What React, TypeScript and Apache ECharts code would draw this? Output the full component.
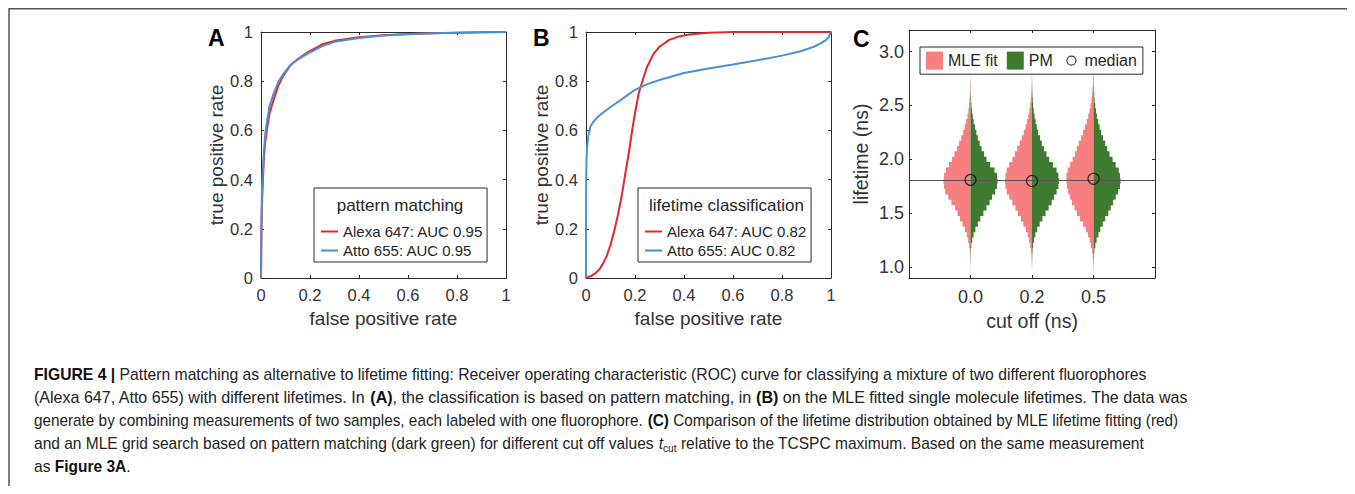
import React, { useEffect, useRef } from 'react';
import * as echarts from 'echarts';

// ---------- Panel A: pattern matching ROC ----------
const pmFpr = [0, 0.002, 0.004, 0.007, 0.012, 0.018, 0.025, 0.035, 0.05, 0.07, 0.09, 0.12, 0.15, 0.19, 0.25, 0.3, 0.4, 0.5, 0.6, 0.7, 0.8, 0.9, 1];
const pmAlexaTpr = [0, 0.2, 0.3, 0.38, 0.49, 0.56, 0.61, 0.67, 0.72, 0.78, 0.82, 0.865, 0.89, 0.917, 0.95, 0.964, 0.979, 0.987, 0.992, 0.995, 0.997, 0.999, 1];
const pmAttoTpr = [0, 0.25, 0.35, 0.42, 0.52, 0.59, 0.64, 0.7, 0.745, 0.795, 0.828, 0.865, 0.888, 0.912, 0.943, 0.96, 0.976, 0.986, 0.991, 0.995, 0.997, 0.999, 1];

// ---------- Panel B: lifetime classification ROC ----------
const ltAlexaFpr = [0, 0.02, 0.04, 0.055, 0.07, 0.085, 0.1, 0.115, 0.13, 0.145, 0.16, 0.175, 0.19, 0.2, 0.215, 0.23, 0.25, 0.275, 0.3, 0.34, 0.38, 0.42, 0.5, 0.6, 0.8, 1];
const ltAlexaTpr = [0, 0.008, 0.02, 0.035, 0.06, 0.09, 0.135, 0.19, 0.255, 0.33, 0.42, 0.51, 0.61, 0.67, 0.75, 0.8, 0.86, 0.91, 0.94, 0.968, 0.982, 0.99, 0.997, 1, 1, 1];
const ltAttoFpr = [0, 0.0005, 0.002, 0.005, 0.01, 0.018, 0.03, 0.045, 0.06, 0.08, 0.1, 0.14, 0.2, 0.25, 0.3, 0.4, 0.5, 0.6, 0.7, 0.8, 0.88, 0.93, 0.96, 0.98, 0.99, 1];
const ltAttoTpr = [0, 0.4, 0.48, 0.54, 0.58, 0.615, 0.635, 0.652, 0.665, 0.68, 0.695, 0.722, 0.765, 0.788, 0.805, 0.833, 0.852, 0.868, 0.885, 0.904, 0.923, 0.94, 0.955, 0.968, 0.978, 1];

// ---------- Panel C: lifetime distributions ----------
const cutoffLabels = ['0.0', '0.2', '0.5'];
const cutoffPositions = [0, 1, 2];
const medianLifetimes = [1.81, 1.8, 1.82];
const referenceLifetime = 1.81;
const lifetimeTicks = [1.0, 1.5, 2.0, 2.5, 3.0];
const lifetimeBins = [1.0, 1.05, 1.1, 1.15, 1.2, 1.25, 1.3, 1.35, 1.4, 1.45, 1.5, 1.55, 1.6, 1.65, 1.7, 1.75, 1.8, 1.85, 1.9, 1.95, 2.0, 2.05, 2.1, 2.15, 2.2, 2.25, 2.3, 2.35, 2.4, 2.45, 2.5, 2.55, 2.6, 2.65, 2.7, 2.75, 2.8];
// half-widths (in cut-off slot units) of each histogram bin
const mleCut00 = [0.002, 0.004, 0.007, 0.012, 0.022, 0.038, 0.06, 0.09, 0.13, 0.17, 0.21, 0.25, 0.31, 0.36, 0.41, 0.43, 0.44, 0.43, 0.4, 0.35, 0.3, 0.26, 0.22, 0.185, 0.15, 0.12, 0.095, 0.07, 0.05, 0.035, 0.025, 0.017, 0.012, 0.008, 0.005, 0.003, 0.002];
const pmCut00 = [0.001, 0.002, 0.004, 0.007, 0.014, 0.028, 0.05, 0.08, 0.12, 0.16, 0.21, 0.26, 0.31, 0.35, 0.4, 0.43, 0.44, 0.43, 0.39, 0.32, 0.26, 0.22, 0.18, 0.15, 0.12, 0.095, 0.072, 0.052, 0.037, 0.025, 0.016, 0.01, 0.006, 0.004, 0.002, 0.001, 0.001];
const mleCut02 = [0.002, 0.005, 0.009, 0.016, 0.028, 0.045, 0.07, 0.1, 0.14, 0.18, 0.23, 0.27, 0.32, 0.37, 0.41, 0.43, 0.44, 0.43, 0.41, 0.37, 0.32, 0.28, 0.24, 0.2, 0.165, 0.135, 0.105, 0.08, 0.06, 0.043, 0.03, 0.021, 0.014, 0.009, 0.006, 0.004, 0.002];
const pmCut02 = [0.001, 0.003, 0.005, 0.009, 0.017, 0.032, 0.055, 0.085, 0.125, 0.17, 0.22, 0.27, 0.32, 0.36, 0.4, 0.43, 0.44, 0.43, 0.4, 0.34, 0.28, 0.235, 0.195, 0.16, 0.13, 0.1, 0.078, 0.058, 0.042, 0.029, 0.019, 0.012, 0.008, 0.005, 0.003, 0.002, 0.001];
const mleCut05 = [0.003, 0.006, 0.012, 0.022, 0.04, 0.06, 0.09, 0.125, 0.17, 0.22, 0.27, 0.31, 0.35, 0.38, 0.41, 0.43, 0.44, 0.44, 0.42, 0.38, 0.34, 0.3, 0.27, 0.24, 0.2, 0.17, 0.14, 0.11, 0.085, 0.065, 0.048, 0.034, 0.023, 0.015, 0.009, 0.005, 0.003];
const pmCut05 = [0.002, 0.004, 0.008, 0.015, 0.03, 0.05, 0.08, 0.11, 0.15, 0.19, 0.24, 0.28, 0.32, 0.36, 0.4, 0.43, 0.44, 0.43, 0.41, 0.36, 0.31, 0.26, 0.22, 0.19, 0.155, 0.125, 0.1, 0.075, 0.055, 0.04, 0.028, 0.019, 0.012, 0.008, 0.005, 0.003, 0.002];
const mleHalfWidths = [mleCut00, mleCut02, mleCut05];
const pmHalfWidths = [pmCut00, pmCut02, pmCut05];

// ---------- texts ----------
const captionLines = [
  '{b|FIGURE 4 |} Pattern matching as alternative to lifetime fitting: Receiver operating characteristic (ROC) curve for classifying a mixture of two different fluorophores',
  '(Alexa 647, Atto 655) with different lifetimes. In {b|(A)}, the classification is based on pattern matching, in {b|(B)} on the MLE fitted single molecule lifetimes. The data was',
  'generate by combining measurements of two samples, each labeled with one fluorophore. {b|(C)} Comparison of the lifetime distribution obtained by MLE lifetime fitting (red)',
  'and an MLE grid search based on pattern matching (dark green) for different cut off values {i|t}{s|cut} relative to the TCSPC maximum. Based on the same measurement',
  'as {b|Figure 3A}.',
];
const captionScale = [0.982, 1.004, 0.957, 0.971, 0.97];

const FONT = '"Liberation Sans", Arial, Helvetica, sans-serif';
const AX = '#2b2b2b';
const TXT = '#333';
const RED = '#e3262b';
const BLUE = '#4a8fd3';
const SALMON = '#f87f7f';
const GREEN = '#3e7a30';

const zip = (xs: number[], ys: number[]) => xs.map((x, i) => [x, ys[i]]);

function boxAxes(gridIndex: number, min: number, max: number, xName: string | null, isX: boolean, label: any, extraTick: any, nameGap: number, nameSize: number) {
  const line = { onZero: false, lineStyle: { color: AX, width: 1 } };
  const tick = { inside: true, length: 3, lineStyle: { color: AX, width: 1 }, ...extraTick };
  return [
    {
      type: 'value', gridIndex, min, max, position: isX ? 'bottom' : 'left',
      axisLine: line, axisTick: tick, splitLine: { show: false },
      axisLabel: label,
      name: xName, nameLocation: 'middle', nameGap,
      nameTextStyle: { color: TXT, fontSize: nameSize, fontFamily: FONT },
    },
    {
      type: 'value', gridIndex, min, max, position: isX ? 'top' : 'right',
      axisLine: line, axisTick: tick, splitLine: { show: false },
      axisLabel: { show: false },
    },
  ];
}

export default function App() {
  const ref = useRef<HTMLDivElement>(null);
  useEffect(() => {
    if (!ref.current) return;
    const chart = echarts.init(ref.current, null, { renderer: 'svg' });
    const rocLabel = { color: TXT, fontSize: 16.5, fontFamily: FONT, margin: 8 };
    const rocX = (g: number) => boxAxes(g, 0, 1, 'false positive rate', true, rocLabel, {}, 31, 19);
    const rocY = (g: number) => boxAxes(g, 0, 1, 'true positive rate', false, rocLabel, {}, 31, 19);
    const xA = rocX(0).map((a: any) => ({ ...a, interval: 0.2 }));
    const yA = rocY(0).map((a: any) => ({ ...a, interval: 0.2 }));
    const xB = rocX(1).map((a: any) => ({ ...a, interval: 0.2 }));
    const yB = rocY(1).map((a: any) => ({ ...a, interval: 0.2 }));
    const xC = boxAxes(2, -1, 3, 'cut off (ns)', true,
      { color: TXT, fontSize: 18, fontFamily: FONT, margin: 10, customValues: cutoffPositions, formatter: (v: number) => cutoffLabels[Math.round(v)] },
      { customValues: cutoffPositions }, 28, 19.5);
    const yC = boxAxes(2, 0.9, 3.2, 'lifetime (ns)', false,
      { color: TXT, fontSize: 18, fontFamily: FONT, margin: 5, customValues: lifetimeTicks, formatter: (v: number) => v.toFixed(1) },
      { customValues: lifetimeTicks }, 38, 19.5);

    const violin = (widths: number[][], side: number) => (params: any, api: any) => {
      const pos = api.value(0);
      const w = widths[params.dataIndex];
      const half = (lifetimeBins[1] - lifetimeBins[0]) / 2;
      const pts: number[][] = [api.coord([pos, lifetimeBins[0] - half])];
      for (let i = 0; i < lifetimeBins.length; i++) {
        const x = pos + side * w[i];
        pts.push(api.coord([x, lifetimeBins[i] - half]));
        pts.push(api.coord([x, lifetimeBins[i] + half]));
      }
      pts.push(api.coord([pos, lifetimeBins[lifetimeBins.length - 1] + half]));
      return { type: 'polygon', shape: { points: pts }, style: { fill: api.visual('color') } };
    };
    const violinData = cutoffPositions.map((p, i) => [p, medianLifetimes[i]]);

    const rocLegend = (left: number, names: string[]) => ({
      orient: 'vertical', left, top: 180, padding: [36, 4, 4, 7], itemGap: 4,
      itemWidth: 17, itemHeight: 2, icon: 'rect', selectedMode: false,
      borderColor: AX, borderWidth: 1, backgroundColor: '#fff',
      textStyle: { color: '#262626', fontSize: 15, fontFamily: FONT },
      data: names,
    });

    const lineSeries = (name: string, data: number[][], color: string, g: number) => ({
      name, type: 'line', data, xAxisIndex: g * 2, yAxisIndex: g * 2, color,
      showSymbol: false, symbol: 'none', lineStyle: { width: 2, color }, smooth: false,
    });

    const CF = 16;
    const caption = captionLines.map((t, i) => ({
      type: 'text', x: 26, y: 366.5 + 23 * i, scaleX: captionScale[i], z: 10,
      style: {
        text: t, fill: '#222', font: CF + 'px ' + FONT, align: 'left', verticalAlign: 'middle',
        lineHeight: 20,
        rich: {
          b: { font: 'bold ' + CF + 'px ' + FONT, fill: '#111', lineHeight: 20 },
          i: { font: 'italic ' + CF + 'px ' + FONT, fill: '#222', lineHeight: 20 },
          s: { font: '10.5px ' + FONT, fill: '#222', lineHeight: 10, verticalAlign: 'bottom' },
        },
      },
    }));

    chart.setOption({
      animation: false,
      grid: [
        { left: 253, top: 24, width: 245, height: 246 },
        { left: 578, top: 24, width: 245, height: 246 },
        { left: 901, top: 22, width: 246, height: 248 },
      ],
      xAxis: [...xA, ...xB, ...xC],
      yAxis: [...yA, ...yB, ...yC],
      legend: [
        rocLegend(306, ['Alexa 647: AUC 0.95', 'Atto 655: AUC 0.95']),
        rocLegend(630, ['Alexa 647: AUC 0.82', 'Atto 655: AUC 0.82']),
        {
          orient: 'horizontal', left: 912, top: 39, padding: [4, 6, 4, 6], itemGap: 9,
          itemWidth: 17, itemHeight: 18, selectedMode: false,
          borderColor: AX, borderWidth: 1, backgroundColor: '#fff',
          textStyle: { color: '#262626', fontSize: 16, fontFamily: FONT },
          data: [
            { name: 'MLE fit', icon: 'rect' },
            { name: 'PM', icon: 'rect' },
            {
              name: 'median',
              icon: 'path://M0,0M17,18M13.5,9A4.5,4.5,0,1,1,4.5,9A4.5,4.5,0,1,1,13.5,9Z',
              itemStyle: { color: 'rgba(0,0,0,0)', borderColor: '#111', borderWidth: 1.2 },
            },
          ],
        },
      ],
      series: [
        lineSeries('Alexa 647: AUC 0.95', zip(pmFpr, pmAlexaTpr), RED, 0),
        lineSeries('Atto 655: AUC 0.95', zip(pmFpr, pmAttoTpr), BLUE, 0),
        lineSeries('Alexa 647: AUC 0.82', zip(ltAlexaFpr, ltAlexaTpr), RED, 1),
        lineSeries('Atto 655: AUC 0.82', zip(ltAttoFpr, ltAttoTpr), BLUE, 1),
        {
          name: 'MLE fit', type: 'custom', xAxisIndex: 4, yAxisIndex: 4,
          itemStyle: { color: SALMON }, renderItem: violin(mleHalfWidths, -1),
          data: violinData, encode: { x: 0, y: 1 },
        },
        {
          name: 'PM', type: 'custom', xAxisIndex: 4, yAxisIndex: 4,
          itemStyle: { color: GREEN }, renderItem: violin(pmHalfWidths, 1),
          data: violinData, encode: { x: 0, y: 1 },
        },
        {
          name: 'median', type: 'scatter', xAxisIndex: 4, yAxisIndex: 4,
          symbol: 'circle', symbolSize: 11, z: 5,
          itemStyle: { color: 'rgba(0,0,0,0)', borderColor: '#111', borderWidth: 1.2 },
          data: violinData,
          markLine: {
            silent: true, symbol: ['none', 'none'], label: { show: false },
            lineStyle: { color: '#555', width: 1, type: 'solid' },
            data: [{ yAxis: referenceLifetime }],
          },
        },
      ],
      graphic: [
        {
          type: 'polyline', z: 0, silent: true,
          shape: { points: [[1, 480], [1, 0.75], [1345.5, 0.75], [1345.5, 480]] },
          style: { stroke: '#555', lineWidth: 1.5, fill: null },
        },
        { type: 'text', x: 200, y: 29.5, z: 10, style: { text: 'A', font: 'bold 23px ' + FONT, fill: '#000', verticalAlign: 'middle' } },
        { type: 'text', x: 525, y: 29.5, z: 10, style: { text: 'B', font: 'bold 23px ' + FONT, fill: '#000', verticalAlign: 'middle' } },
        { type: 'text', x: 845, y: 31, z: 10, style: { text: 'C', font: 'bold 23px ' + FONT, fill: '#000', verticalAlign: 'middle' } },
        { type: 'text', x: 392, y: 197, z: 10, style: { text: 'pattern matching', font: '17px ' + FONT, fill: '#262626', align: 'center', verticalAlign: 'middle' } },
        { type: 'text', x: 718.5, y: 197, z: 10, style: { text: 'lifetime classification', font: '17px ' + FONT, fill: '#262626', align: 'center', verticalAlign: 'middle' } },
        ...caption,
      ],
    });
    return () => chart.dispose();
  }, []);
  return <div ref={ref} style={{ width: 1347, height: 478 }} />;
}
